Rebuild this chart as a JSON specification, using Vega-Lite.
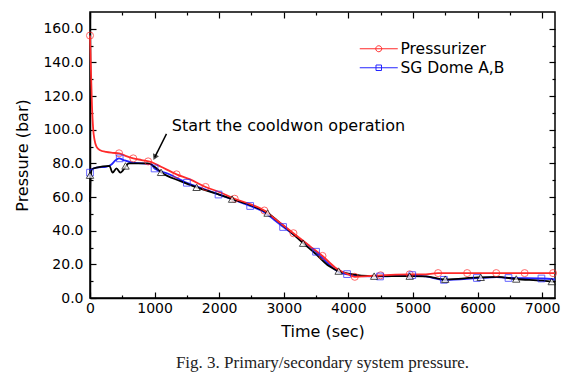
{
  "$schema": "https://vega.github.io/schema/vega-lite/v6.json",
  "width": 465,
  "height": 286,
  "autosize": {"type": "none"},
  "padding": {"left": 90, "top": 12, "right": 33, "bottom": 81},
  "background": "white",
  "config": {
    "font": "DejaVu Sans",
    "view": {"stroke": "black", "strokeWidth": 1.5},
    "axis": {
      "grid": false,
      "domainColor": "black",
      "domainWidth": 1.5,
      "tickColor": "black",
      "tickWidth": 1.2,
      "labelColor": "black",
      "titleColor": "black",
      "labelFont": "DejaVu Sans",
      "titleFont": "DejaVu Sans",
      "labelFontSize": 14,
      "titleFontSize": 16,
      "titleFontWeight": "normal"
    }
  },
  "title": {
    "text": "Fig. 3. Primary/secondary system pressure.",
    "orient": "bottom",
    "anchor": "middle",
    "font": "Liberation Serif",
    "fontSize": 17,
    "fontWeight": "normal",
    "color": "#222",
    "offset": 16
  },
  "datasets": {
    "lines": [
      {"series": "SG Dome A,B", "t": 0, "p": 74.5},
      {"series": "SG Dome A,B", "t": 30, "p": 76.5},
      {"series": "SG Dome A,B", "t": 100, "p": 77.5},
      {"series": "SG Dome A,B", "t": 250, "p": 78},
      {"series": "SG Dome A,B", "t": 320, "p": 79},
      {"series": "SG Dome A,B", "t": 400, "p": 82},
      {"series": "SG Dome A,B", "t": 450, "p": 83},
      {"series": "SG Dome A,B", "t": 520, "p": 82},
      {"series": "SG Dome A,B", "t": 650, "p": 80.5},
      {"series": "SG Dome A,B", "t": 800, "p": 80},
      {"series": "SG Dome A,B", "t": 950, "p": 79.5},
      {"series": "SG Dome A,B", "t": 1000, "p": 77},
      {"series": "SG Dome A,B", "t": 1200, "p": 74},
      {"series": "SG Dome A,B", "t": 1500, "p": 68.5},
      {"series": "SG Dome A,B", "t": 1750, "p": 65},
      {"series": "SG Dome A,B", "t": 2000, "p": 61.5},
      {"series": "SG Dome A,B", "t": 2250, "p": 58},
      {"series": "SG Dome A,B", "t": 2500, "p": 54.5},
      {"series": "SG Dome A,B", "t": 2700, "p": 51},
      {"series": "SG Dome A,B", "t": 2850, "p": 46.5},
      {"series": "SG Dome A,B", "t": 3000, "p": 42},
      {"series": "SG Dome A,B", "t": 3250, "p": 35},
      {"series": "SG Dome A,B", "t": 3500, "p": 27.5},
      {"series": "SG Dome A,B", "t": 3700, "p": 20},
      {"series": "SG Dome A,B", "t": 3850, "p": 15.5},
      {"series": "SG Dome A,B", "t": 4000, "p": 14},
      {"series": "SG Dome A,B", "t": 4200, "p": 13},
      {"series": "SG Dome A,B", "t": 4500, "p": 12.8},
      {"series": "SG Dome A,B", "t": 5000, "p": 13.6},
      {"series": "SG Dome A,B", "t": 5200, "p": 12.8},
      {"series": "SG Dome A,B", "t": 5500, "p": 10.8},
      {"series": "SG Dome A,B", "t": 6000, "p": 11.8},
      {"series": "SG Dome A,B", "t": 6300, "p": 12.4},
      {"series": "SG Dome A,B", "t": 6500, "p": 11.9},
      {"series": "SG Dome A,B", "t": 7000, "p": 11.6},
      {"series": "SG Dome A,B", "t": 7200, "p": 11},
      {"series": "SG Dome C", "t": 0, "p": 57},
      {"series": "SG Dome C", "t": 10, "p": 72},
      {"series": "SG Dome C", "t": 30, "p": 76.5},
      {"series": "SG Dome C", "t": 100, "p": 77.5},
      {"series": "SG Dome C", "t": 300, "p": 78.5},
      {"series": "SG Dome C", "t": 350, "p": 74.5},
      {"series": "SG Dome C", "t": 410, "p": 77},
      {"series": "SG Dome C", "t": 470, "p": 74.5},
      {"series": "SG Dome C", "t": 550, "p": 78},
      {"series": "SG Dome C", "t": 600, "p": 80},
      {"series": "SG Dome C", "t": 900, "p": 80},
      {"series": "SG Dome C", "t": 1000, "p": 78},
      {"series": "SG Dome C", "t": 1100, "p": 74.7},
      {"series": "SG Dome C", "t": 1400, "p": 69.5},
      {"series": "SG Dome C", "t": 1650, "p": 65.8},
      {"series": "SG Dome C", "t": 2000, "p": 61.5},
      {"series": "SG Dome C", "t": 2200, "p": 58.8},
      {"series": "SG Dome C", "t": 2500, "p": 55},
      {"series": "SG Dome C", "t": 2750, "p": 50.5},
      {"series": "SG Dome C", "t": 2900, "p": 46},
      {"series": "SG Dome C", "t": 3100, "p": 39.5},
      {"series": "SG Dome C", "t": 3300, "p": 32.6},
      {"series": "SG Dome C", "t": 3500, "p": 26},
      {"series": "SG Dome C", "t": 3700, "p": 19},
      {"series": "SG Dome C", "t": 3850, "p": 16},
      {"series": "SG Dome C", "t": 4000, "p": 14.5},
      {"series": "SG Dome C", "t": 4400, "p": 13},
      {"series": "SG Dome C", "t": 4950, "p": 13},
      {"series": "SG Dome C", "t": 5200, "p": 12.8},
      {"series": "SG Dome C", "t": 5500, "p": 11},
      {"series": "SG Dome C", "t": 6000, "p": 12.2},
      {"series": "SG Dome C", "t": 6300, "p": 12.6},
      {"series": "SG Dome C", "t": 6600, "p": 11.3},
      {"series": "SG Dome C", "t": 7000, "p": 10.3},
      {"series": "SG Dome C", "t": 7200, "p": 9.5},
      {"series": "Pressurizer", "t": 0, "p": 156},
      {"series": "Pressurizer", "t": 5, "p": 150},
      {"series": "Pressurizer", "t": 15, "p": 135},
      {"series": "Pressurizer", "t": 30, "p": 115},
      {"series": "Pressurizer", "t": 50, "p": 100},
      {"series": "Pressurizer", "t": 70, "p": 94},
      {"series": "Pressurizer", "t": 100, "p": 90},
      {"series": "Pressurizer", "t": 150, "p": 88},
      {"series": "Pressurizer", "t": 250, "p": 86.8},
      {"series": "Pressurizer", "t": 350, "p": 86.3},
      {"series": "Pressurizer", "t": 450, "p": 86},
      {"series": "Pressurizer", "t": 550, "p": 84.5},
      {"series": "Pressurizer", "t": 670, "p": 83},
      {"series": "Pressurizer", "t": 800, "p": 82},
      {"series": "Pressurizer", "t": 950, "p": 80.8},
      {"series": "Pressurizer", "t": 1100, "p": 78},
      {"series": "Pressurizer", "t": 1340, "p": 73.5},
      {"series": "Pressurizer", "t": 1550, "p": 70.5},
      {"series": "Pressurizer", "t": 1790, "p": 66},
      {"series": "Pressurizer", "t": 2000, "p": 63},
      {"series": "Pressurizer", "t": 2240, "p": 59},
      {"series": "Pressurizer", "t": 2500, "p": 55.5},
      {"series": "Pressurizer", "t": 2700, "p": 52},
      {"series": "Pressurizer", "t": 2900, "p": 46},
      {"series": "Pressurizer", "t": 3150, "p": 38.5},
      {"series": "Pressurizer", "t": 3400, "p": 31},
      {"series": "Pressurizer", "t": 3600, "p": 25},
      {"series": "Pressurizer", "t": 3800, "p": 18},
      {"series": "Pressurizer", "t": 4000, "p": 14},
      {"series": "Pressurizer", "t": 4100, "p": 12.6},
      {"series": "Pressurizer", "t": 4300, "p": 13},
      {"series": "Pressurizer", "t": 4500, "p": 13.5},
      {"series": "Pressurizer", "t": 4950, "p": 14},
      {"series": "Pressurizer", "t": 5150, "p": 14},
      {"series": "Pressurizer", "t": 5390, "p": 14.8},
      {"series": "Pressurizer", "t": 7200, "p": 14.8}
    ],
    "circles": [
      {"t": 0, "p": 156},
      {"t": 450, "p": 86},
      {"t": 670, "p": 83},
      {"t": 900, "p": 81.2},
      {"t": 1340, "p": 73.5},
      {"t": 1790, "p": 66},
      {"t": 2240, "p": 59},
      {"t": 2700, "p": 52},
      {"t": 3150, "p": 38.5},
      {"t": 3600, "p": 25},
      {"t": 4100, "p": 12.6},
      {"t": 4500, "p": 13.5},
      {"t": 4950, "p": 14.1},
      {"t": 5390, "p": 14.8},
      {"t": 5840, "p": 14.8},
      {"t": 6290, "p": 14.8},
      {"t": 6730, "p": 14.8},
      {"t": 7170, "p": 14.8}
    ],
    "squares": [
      {"t": 0, "p": 74.5},
      {"t": 460, "p": 83},
      {"t": 1000, "p": 77},
      {"t": 1500, "p": 68.5},
      {"t": 1990, "p": 61.5},
      {"t": 2480, "p": 54.7},
      {"t": 2990, "p": 42.2},
      {"t": 3500, "p": 27.5},
      {"t": 3980, "p": 14.2},
      {"t": 4490, "p": 12.8},
      {"t": 4990, "p": 13.6},
      {"t": 5480, "p": 10.8},
      {"t": 5990, "p": 11.9},
      {"t": 6480, "p": 11.9},
      {"t": 6990, "p": 11.6}
    ],
    "triangles": [
      {"t": 0, "p": 73},
      {"t": 550, "p": 78.5},
      {"t": 1100, "p": 74.7},
      {"t": 1650, "p": 65.8},
      {"t": 2200, "p": 58.8},
      {"t": 2750, "p": 50.5},
      {"t": 3300, "p": 32.6},
      {"t": 3850, "p": 16},
      {"t": 4400, "p": 13},
      {"t": 4950, "p": 13},
      {"t": 5500, "p": 11.2},
      {"t": 6050, "p": 12.3},
      {"t": 6600, "p": 11.3},
      {"t": 7150, "p": 9.8}
    ],
    "note": [
      {"t": 1266, "p": 102.5, "label": "Start the cooldwon operation"}
    ],
    "arrow": [
      {"t": 1184, "p": 97.6, "t2": 1002, "p2": 83.6}
    ],
    "head": [
      {"t": 1002, "p": 83.6}
    ]
  },
  "layer": [
    {
      "data": {"name": "lines"},
      "mark": {"type": "line", "strokeWidth": 1.8, "interpolate": "monotone"},
      "encoding": {
        "x": {
          "field": "t", "type": "quantitative",
          "scale": {"domain": [0, 7200], "nice": false, "zero": false},
          "axis": {
            "orient": "bottom",
            "title": "Time (sec)",
            "values": [0, 500, 1000, 1500, 2000, 2500, 3000, 3500, 4000, 4500, 5000, 5500, 6000, 6500, 7000],
            "format": "d",
            "labelExpr": "datum.value % 1000 === 0 ? datum.label : ''",
            "tickSize": {"condition": {"test": "datum.value % 1000 === 0", "value": -6}, "value": -3},
            "labelPadding": 9,
            "titlePadding": 5,
            "labelFlush": false,
            "labelOverlap": false
          }
        },
        "y": {
          "field": "p", "type": "quantitative",
          "scale": {"domain": [0, 170], "nice": false, "zero": false},
          "axis": {
            "orient": "left",
            "title": "Pressure (bar)",
            "values": [0, 10, 20, 30, 40, 50, 60, 70, 80, 90, 100, 110, 120, 130, 140, 150, 160],
            "format": ".1f",
            "labelExpr": "datum.value % 20 === 0 ? datum.label : ''",
            "tickSize": {"condition": {"test": "datum.value % 20 === 0", "value": -6}, "value": -3},
            "labelPadding": 13,
            "titlePadding": 12,
            "labelOverlap": false
          }
        },
        "color": {
          "field": "series", "type": "nominal",
          "scale": {"domain": ["Pressurizer", "SG Dome A,B", "SG Dome C"], "range": ["#ff2a2a", "#2424ff", "#000000"]},
          "legend": {
            "values": ["Pressurizer", "SG Dome A,B"],
            "title": null,
            "orient": "none",
            "legendX": 267,
            "legendY": 29,
            "labelFont": "DejaVu Sans",
            "labelFontSize": 15.5,
            "labelColor": "black",
            "symbolType": "M-1,0H6.6",
            "symbolSize": 100,
            "symbolStrokeWidth": 1,
            "labelOffset": 28,
            "rowPadding": 2,
            "encode": {
              "symbols": {
                "update": {
                  "shape": {"signal": "datum.value === 'Pressurizer' ? 'M-1,0H6.6M2.2,0A0.6,0.6 0 1,0 3.4,0A0.6,0.6 0 1,0 2.2,0' : 'M-1,0H6.6M2.25,-0.55H3.35V0.55H2.25Z'"},
                  "fill": {"value": "transparent"},
                  "strokeWidth": {"value": 1}
                }
              }
            }
          }
        }
      }
    },
    {
      "data": {"name": "circles"},
      "mark": {"type": "point", "shape": "circle", "filled": false, "size": 50, "strokeWidth": 1, "color": "#ff2a2a"},
      "encoding": {
        "x": {"field": "t", "type": "quantitative", "scale": {"domain": [0, 7200], "nice": false, "zero": false}, "axis": null},
        "y": {"field": "p", "type": "quantitative", "scale": {"domain": [0, 170], "nice": false, "zero": false}, "axis": null}
      }
    },
    {
      "data": {"name": "squares"},
      "mark": {"type": "point", "shape": "square", "filled": false, "size": 45, "strokeWidth": 1, "color": "#2424ff"},
      "encoding": {
        "x": {"field": "t", "type": "quantitative", "scale": {"domain": [0, 7200], "nice": false, "zero": false}, "axis": null},
        "y": {"field": "p", "type": "quantitative", "scale": {"domain": [0, 170], "nice": false, "zero": false}, "axis": null}
      }
    },
    {
      "data": {"name": "triangles"},
      "mark": {"type": "point", "shape": "triangle-up", "filled": true, "fill": "white", "stroke": "black", "size": 55, "strokeWidth": 1},
      "encoding": {
        "x": {"field": "t", "type": "quantitative", "scale": {"domain": [0, 7200], "nice": false, "zero": false}, "axis": null},
        "y": {"field": "p", "type": "quantitative", "scale": {"domain": [0, 170], "nice": false, "zero": false}, "axis": null}
      }
    },
    {
      "data": {"name": "note"},
      "mark": {"type": "text", "align": "left", "baseline": "middle", "font": "DejaVu Sans", "fontSize": 16, "color": "black"},
      "encoding": {
        "x": {"field": "t", "type": "quantitative", "scale": {"domain": [0, 7200], "nice": false, "zero": false}, "axis": null},
        "y": {"field": "p", "type": "quantitative", "scale": {"domain": [0, 170], "nice": false, "zero": false}, "axis": null},
        "text": {"field": "label"}
      }
    },
    {
      "data": {"name": "arrow"},
      "mark": {"type": "rule", "color": "black", "strokeWidth": 1.5},
      "encoding": {
        "x": {
          "field": "t", "type": "quantitative",
          "scale": {"domain": [0, 7200], "nice": false, "zero": false},
          "axis": {
            "orient": "top",
            "title": null,
            "labels": false,
            "domain": false,
            "values": [0, 500, 1000, 1500, 2000, 2500, 3000, 3500, 4000, 4500, 5000, 5500, 6000, 6500, 7000],
            "tickSize": {"condition": {"test": "datum.value % 1000 === 0", "value": -6}, "value": -3}
          }
        },
        "y": {
          "field": "p", "type": "quantitative",
          "scale": {"domain": [0, 170], "nice": false, "zero": false},
          "axis": {
            "orient": "right",
            "title": null,
            "labels": false,
            "domain": false,
            "values": [0, 10, 20, 30, 40, 50, 60, 70, 80, 90, 100, 110, 120, 130, 140, 150, 160],
            "tickSize": {"condition": {"test": "datum.value % 20 === 0", "value": -6}, "value": -3}
          }
        },
        "x2": {"field": "t2"},
        "y2": {"field": "p2"}
      }
    },
    {
      "data": {"name": "head"},
      "mark": {"type": "point", "shape": "triangle-up", "filled": true, "color": "black", "size": 45, "angle": 206},
      "encoding": {
        "x": {"field": "t", "type": "quantitative", "scale": {"domain": [0, 7200], "nice": false, "zero": false}, "axis": null},
        "y": {"field": "p", "type": "quantitative", "scale": {"domain": [0, 170], "nice": false, "zero": false}, "axis": null}
      }
    }
  ],
  "resolve": {"axis": {"x": "independent", "y": "independent"}}
}
